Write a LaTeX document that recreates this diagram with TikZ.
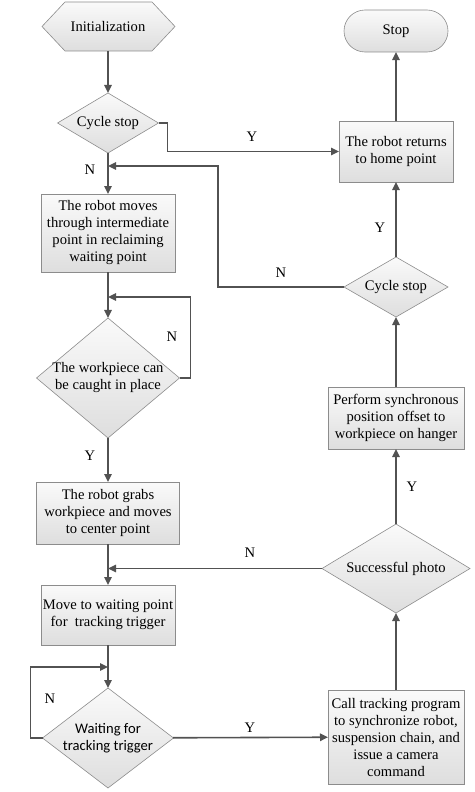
\documentclass[tikz,border=0pt]{standalone}
\usepackage{fontspec}
\setmainfont{Liberation Serif}
\newfontfamily\calfont{Carlito}
\usetikzlibrary{shapes.geometric,shapes.misc,arrows.meta}

\begin{document}
\begin{tikzpicture}[
    x=1pt, y=-1pt,
    font=\fontsize{14.6}{17}\selectfont,
    shapeline/.style={draw=black!45, line width=0.6pt, top color=black!2, bottom color=black!13},
    procbox/.style={shapeline, rectangle, align=center, inner sep=0, outer sep=0},
    decision/.style={shapeline, diamond, inner sep=0, outer sep=0},
    flow/.style={draw=black!68, line width=1.6pt, -{Triangle[length=8pt, width=7.5pt]}},
    yn/.style={inner sep=0}
]
\useasboundingbox (0,0) rectangle (474,792);

% left column
\draw[shapeline] (65,2) -- (152,2) -- (175,26.5) -- (152,51) -- (65,51) -- (42,26.5) -- cycle;
\node[minimum width=133, minimum height=49, inner sep=0, outer sep=0] (init) at (108,26.5) {Initialization};
\node[decision, minimum width=101, minimum height=60, label=center:{Cycle stop}] (cycA) at (108,123) {};
\node[procbox, minimum width=134, minimum height=78] (moves) at (108,233)
    {The robot moves\\through intermediate\\point in reclaiming\\waiting point};
\node[decision, minimum width=143, minimum height=120,
    label={[align=center]center:The workpiece can\\be caught in place}] (catch) at (108,378) {};
\node[procbox, minimum width=143, minimum height=62] (grabs) at (108,513)
    {The robot grabs\\workpiece and moves\\to center point};
\node[procbox, minimum width=134, minimum height=60] (wait) at (108,615)
    {Move to waiting point\\for\ \ tracking trigger};
\node[decision, minimum width=131, minimum height=100,
    label={[align=center, font=\fontsize{14.6}{17}\calfont]center:Waiting for\\tracking trigger}] (trig) at (108,738) {};

% right column
\node[shapeline, rounded rectangle, minimum width=104, minimum height=42, inner sep=0, outer sep=0] (stop) at (396,31) {Stop};
\node[procbox, minimum width=114, minimum height=61] (home) at (396,151.5)
    {The robot returns\\to home point};
\node[decision, minimum width=104, minimum height=60, label=center:{Cycle stop}] (cycB) at (396,287) {};
\node[procbox, minimum width=136, minimum height=62] (offset) at (396,418)
    {Perform synchronous\\position offset to\\workpiece on hanger};
\node[decision, minimum width=148, minimum height=89, label=center:{Successful photo}] (photo) at (396,568.5) {};
\node[procbox, minimum width=136, minimum height=94] (call) at (396,737)
    {Call tracking program\\to synchronize robot,\\suspension chain, and\\issue a camera\\command};

% joins on the left trunk
\coordinate (jA) at (108,166);
\coordinate (jB) at (108,297);
\coordinate (jC) at (108,568.5);
\coordinate (jD) at (108,667);

% connectors
\draw[flow] (init) -- (cycA);
\draw[flow] (cycA.east) -- ++(9,0) |- (home.west);
\draw[flow] (cycA) -- (moves);
\draw[flow] (moves) -- (catch);
\draw[flow] (catch.east) -- ++(11,0) |- (jB);
\draw[flow] (catch) -- (grabs);
\draw[flow] (grabs) -- (wait);
\draw[flow] (wait) -- (trig);
\draw[flow] (trig.west) -- ++(-12,0) |- (jD);
\draw[flow] (trig) -- (call);
\draw[flow] (call) -- (photo);
\draw[flow] (photo.west) -- (jC);
\draw[flow] (photo) -- (offset);
\draw[flow] (offset) -- (cycB);
\draw[flow] (cycB.west) -| (218,166) -- (jA);
\draw[flow] (cycB) -- (home);
\draw[flow] (home) -- (stop);

% branch labels
\node[yn] (lblA) at (252,137) {Y};
\node[yn] (lblB) at (90,170) {N};
\node[yn] (lblC) at (172,337) {N};
\node[yn] (lblD) at (90,456) {Y};
\node[yn] (lblE) at (50,699) {N};
\node[yn] (lblF) at (250,728) {Y};
\node[yn] (lblG) at (250,553) {N};
\node[yn] (lblH) at (412,487) {Y};
\node[yn] (lblI) at (380,228) {Y};
\node[yn] (lblJ) at (281,273) {N};

\end{tikzpicture}
\end{document}
